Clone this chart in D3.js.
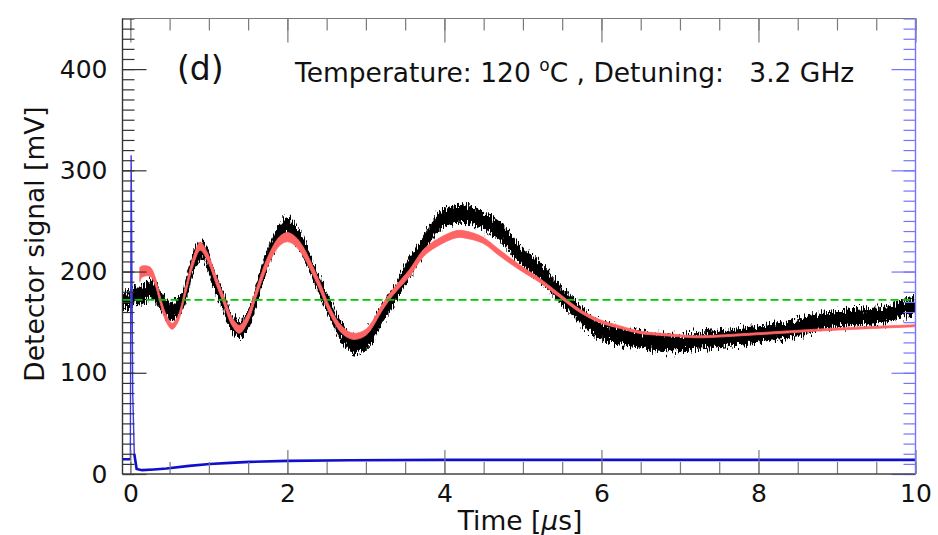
<!DOCTYPE html>
<html lang="en">
<head>
  <meta charset="UTF-8">
  <title>Detector signal</title>
  <script src="https://d3js.org/d3.v7.min.js"></script>
  <style>
    * { margin: 0; padding: 0; box-sizing: border-box; }
    body { background: #fff; font-family: "DejaVu Sans", sans-serif; }
    text { font-family: "DejaVu Sans", sans-serif; fill: #111; }
  </style>
</head>
<body>
  <div id="chart"></div>
  <script>
    // measured signal (black band): time [us], centre [mV], half spread [mV]
    const timeBlack = [-0.1, 0.0, 0.05, 0.12, 0.2, 0.28, 0.37, 0.45, 0.52, 0.6, 0.67, 0.75, 0.82, 0.92, 0.98,
      1.05, 1.18, 1.28, 1.39, 1.5, 1.6, 1.69, 1.82, 1.9, 2.0, 2.1, 2.2, 2.37, 2.5, 2.67, 2.84, 2.95,
      3.05, 3.22, 3.35, 3.56, 3.73, 3.9, 4.05, 4.16, 4.3, 4.45, 4.6, 4.71, 4.96, 5.22, 5.47, 5.6, 5.73,
      5.98, 6.24, 6.49, 6.75, 7.0, 7.22, 7.55, 7.98, 8.41, 8.83, 9.26, 9.68, 9.85, 10.0];
    const blackMid = [172, 172, 176, 176, 180, 183, 173, 164, 160, 164, 172, 195, 212, 222, 214,
      195, 172, 152, 143, 152, 175, 200, 225, 238, 245, 238, 225, 192, 170, 143, 128, 130,
      136, 160, 175, 205, 225, 247, 255, 257, 256, 252, 246, 240, 217, 200, 178, 168, 157,
      142, 136, 133, 130, 129.5, 131, 134, 138, 143, 151, 155, 158, 164, 166];
    const blackSpread = [7, 7, 7.5, 7.5, 8, 8, 8, 8, 8, 8, 8, 8, 8, 8, 8,
      8, 8, 8, 8, 8, 8, 8, 8, 8, 8, 8, 8, 8, 8, 8, 8, 8,
      8, 8, 8, 8, 8, 8, 8, 8, 8, 8, 8, 8, 8, 8, 8, 8, 8,
      7.5, 7.5, 7.5, 7.5, 7.5, 7.5, 7.5, 7.5, 7.5, 7.5, 7.5, 7.5, 7.5, 7.5];

    // fit (red band)
    const timeRed = [0.12, 0.15, 0.25, 0.31, 0.37, 0.45, 0.53, 0.6, 0.7, 0.8, 0.89, 0.98, 1.1, 1.18, 1.3,
      1.39, 1.5, 1.6, 1.75, 1.9, 2.0, 2.1, 2.2, 2.4, 2.55, 2.7, 2.84, 3.0, 3.22, 3.35, 3.56, 3.73,
      3.9, 4.16, 4.3, 4.49, 4.71, 4.96, 5.22, 5.47, 5.73, 5.98, 6.24, 6.49, 6.75, 7.0, 7.22, 7.98, 8.83, 10.0];
    const redMid = [197, 200, 200, 192, 175, 155, 146, 152, 180, 210, 225, 215, 190, 174, 150,
      143, 155, 178, 210, 230, 234, 230, 220, 188, 160, 142, 136, 140, 166, 180, 199, 218,
      228, 237, 236, 231, 218, 204, 191, 176, 161, 151, 145, 140, 138, 136.5, 135.5, 138.5, 142.5, 146.5];
    const redSpread = [7, 5.5, 4.5, 4, 3.5, 3.5, 3, 3, 3.5, 4, 4, 4, 4, 4, 4,
      4, 4, 4, 4.5, 4.5, 4.5, 4.5, 4.5, 4, 3.5, 3.5, 3, 3, 3, 3, 3.5, 3.5,
      3.5, 3.5, 3.5, 3, 3, 2.5, 2, 1.8, 1.6, 1.5, 1.3, 1.2, 1.1, 1, 1, 1, 1, 1];

    // reference detector (blue)
    const timeBlue = [-0.1, 0.0, 0.01, 0.02, 0.03, 0.05, 0.08, 0.15, 0.3, 0.46, 0.75, 1.01, 1.27, 1.52, 2.0, 2.8, 4.0, 6.0, 8.0, 10.0];
    const blueVal = [14.5, 14.5, 315, 200, 80, 20, 5, 3.8, 4.5, 5.5, 8, 9.9, 11, 12, 13, 13.6, 14, 14, 14, 14];

    const baselineLevel = 172;
    const xMajor = [0, 2, 4, 6, 8, 10];
    const yMajor = [0, 100, 200, 300, 400];

    const W = 938, H = 535;
    const L = 122.5, R = 915.5, T = 18.5, B = 474;

    const x = d3.scaleLinear().domain([-0.1, 10]).range([L, R]);
    const y = d3.scaleLinear().domain([0, 450]).range([B, T]);

    const xMinor = d3.range(0, 10.01, 0.5);
    const yMinor = d3.range(0, 451, 10);

    const svg = d3.select("#chart").append("svg")
      .attr("width", W).attr("height", H);

    const defs = svg.append("defs");
    defs.append("clipPath").attr("id", "plot")
      .append("rect").attr("x", L).attr("y", T).attr("width", R - L).attr("height", B - T);

    // rough vertical texture for the noisy trace
    const f = defs.append("filter").attr("id", "jag")
      .attr("x", "-2%").attr("y", "-20%").attr("width", "104%").attr("height", "140%");
    f.append("feTurbulence").attr("type", "fractalNoise").attr("baseFrequency", "0.9 0.15")
      .attr("numOctaves", 2).attr("seed", 4).attr("result", "n");
    f.append("feColorMatrix").attr("in", "n").attr("type", "matrix")
      .attr("values", "0 0 0 0 0.5  0 1 0 0 0  0 0 0 0 0  0 0 0 0 1").attr("result", "m");
    f.append("feDisplacementMap").attr("in", "SourceGraphic").attr("in2", "m")
      .attr("scale", 18).attr("xChannelSelector", "R").attr("yChannelSelector", "G");

    const plot = svg.append("g").attr("clip-path", "url(#plot)");

    const black = timeBlack.map((t, i) => ({t, mid: blackMid[i], hw: blackSpread[i]}));
    const red = timeRed.map((t, i) => ({t, mid: redMid[i], hw: redSpread[i]}));
    const blue = timeBlue.map((t, i) => ({t, v: blueVal[i]}));

    const band = d3.area()
      .x(d => x(d.t))
      .y0(d => y(d.mid - d.hw))
      .y1(d => y(d.mid + d.hw))
      .curve(d3.curveCatmullRom.alpha(0.5));

    plot.append("path").datum(black)
      .attr("d", band)
      .attr("fill", "#000")
      .attr("stroke", "#000").attr("stroke-width", 1.5)
      .attr("filter", "url(#jag)");

    plot.append("path").datum(red)
      .attr("d", band)
      .attr("fill", "#ff6464")
      .attr("stroke", "#ff6464").attr("stroke-width", 0.8);

    const blueLine = d3.line().x(d => x(d.t)).y(d => y(d.v));
    // thin spike at t = 0, then the steady trace
    plot.append("path").datum(blue.filter(d => d.t <= 0.08))
      .attr("d", blueLine)
      .attr("fill", "none")
      .attr("stroke", "#3a3ae0").attr("stroke-width", 1.4);
    plot.append("path").datum(blue.filter(d => d.t >= 0.05))
      .attr("d", blueLine)
      .attr("fill", "none")
      .attr("stroke", "#1010cc").attr("stroke-width", 2.6);
    plot.append("path").datum(blue.filter(d => d.t <= 0.0))
      .attr("d", blueLine)
      .attr("fill", "none")
      .attr("stroke", "#1010cc").attr("stroke-width", 2.6);

    plot.append("line")
      .attr("x1", L).attr("x2", R)
      .attr("y1", y(baselineLevel)).attr("y2", y(baselineLevel))
      .attr("stroke", "#00c800").attr("stroke-width", 1.6)
      .attr("stroke-dasharray", "8,4");

    // axes
    function ticks(g, axis, color) {
      g.call(axis);
      g.select(".domain").remove();
      g.selectAll("line").attr("stroke", color).attr("stroke-width", 1.2);
    }
    const gx = svg.append("g");
    ticks(gx.append("g").attr("transform", `translate(0,${B})`), d3.axisTop(x).tickValues(xMinor).tickSize(12).tickFormat(""), "#7a7a7a");
    ticks(gx.append("g").attr("transform", `translate(0,${B})`), d3.axisTop(x).tickValues(xMajor).tickSize(24).tickFormat(""), "#7a7a7a");
    ticks(gx.append("g").attr("transform", `translate(0,${T})`), d3.axisBottom(x).tickValues(xMinor).tickSize(12).tickFormat(""), "#7a7a7a");
    ticks(gx.append("g").attr("transform", `translate(0,${T})`), d3.axisBottom(x).tickValues(xMajor).tickSize(24).tickFormat(""), "#7a7a7a");
    ticks(gx.append("g").attr("transform", `translate(${L},0)`), d3.axisRight(y).tickValues(yMinor).tickSize(12).tickFormat(""), "#333");
    ticks(gx.append("g").attr("transform", `translate(${L},0)`), d3.axisRight(y).tickValues(yMajor).tickSize(24).tickFormat(""), "#333");
    ticks(gx.append("g").attr("transform", `translate(${R},0)`), d3.axisLeft(y).tickValues(yMinor).tickSize(12).tickFormat(""), "#7474ff");
    ticks(gx.append("g").attr("transform", `translate(${R},0)`), d3.axisLeft(y).tickValues(yMajor).tickSize(24).tickFormat(""), "#7474ff");

    // frame
    svg.append("line").attr("x1", L).attr("x2", R).attr("y1", T).attr("y2", T).attr("stroke", "#7a7a7a").attr("stroke-width", 1.2);
    svg.append("line").attr("x1", L).attr("x2", R).attr("y1", B).attr("y2", B).attr("stroke", "#444").attr("stroke-width", 1.4);
    svg.append("line").attr("x1", L).attr("x2", L).attr("y1", T).attr("y2", B).attr("stroke", "#333").attr("stroke-width", 1.4);
    svg.append("line").attr("x1", R).attr("x2", R).attr("y1", T).attr("y2", B).attr("stroke", "#7474ff").attr("stroke-width", 1.4);

    // tick labels
    const xl = svg.append("g").attr("transform", `translate(0,${B})`)
      .call(d3.axisBottom(x).tickValues(xMajor).tickSize(0).tickPadding(10).tickFormat(d3.format("d")));
    xl.select(".domain").remove();
    xl.selectAll("text").style("font-size", "25px").attr("fill", "#111");

    const yl = svg.append("g").attr("transform", `translate(${L},0)`)
      .call(d3.axisLeft(y).tickValues(yMajor).tickSize(0).tickPadding(15).tickFormat(d3.format("d")));
    yl.select(".domain").remove();
    yl.selectAll("text").style("font-size", "25px").attr("fill", "#111");

    // titles
    const xt = svg.append("text")
      .attr("x", 520).attr("y", 530)
      .attr("text-anchor", "middle")
      .style("font-size", "26.5px");
    xt.append("tspan").text("Time [");
    xt.append("tspan").style("font-style", "italic").text("μ");
    xt.append("tspan").text("s]");

    svg.append("text")
      .attr("transform", "translate(44,244) rotate(-90)")
      .attr("text-anchor", "middle")
      .style("font-size", "26.5px")
      .text("Detector signal [mV]");

    svg.append("text")
      .attr("x", 177).attr("y", 80)
      .style("font-size", "33px")
      .text("(d)");

    const info = svg.append("text")
      .attr("x", 295).attr("y", 82)
      .attr("xml:space", "preserve")
      .style("white-space", "pre")
      .style("font-size", "26.5px");
    info.append("tspan").text("Temperature: 120 ");
    info.append("tspan").attr("dy", -11).style("font-size", "17px").text("o");
    info.append("tspan").attr("dy", 11).text("C , Detuning:   3.2 GHz");
  </script>
</body>
</html>
